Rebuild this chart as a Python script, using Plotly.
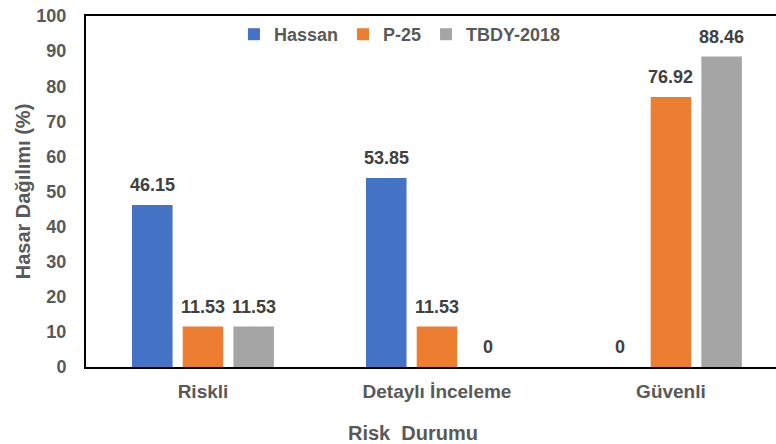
import plotly.graph_objects as go

# Damage distribution by risk category for three assessment methods
categories = ["Riskli", "Detaylı İnceleme", "Güvenli"]
hassan = [46.15, 53.85, 0]
p25 = [11.53, 11.53, 76.92]
tbdy = [11.53, 0, 88.46]

series = [
    ("Hassan", hassan, "#4472C4"),
    ("P-25", p25, "#ED7D31"),
    ("TBDY-2018", tbdy, "#A5A5A5"),
]

x_title = "Risk  Durumu"
y_title = "Hasar Dağılımı (%)"

FONT = "Liberation Sans, Arial, sans-serif"
GREY = "#595959"
LABEL = "#404040"

X_RANGE = [-0.5, 2.449]
ML, MR, WIDTH = 86, 0, 776
BARGAP = 0.35

fig = go.Figure()
for name, vals, color in series:
    fig.add_trace(go.Bar(
        name=name,
        x=categories,
        y=vals,
        marker=dict(color=color, line=dict(width=0)),
    ))

# value labels above each bar, shifted to the bar's slot within the group
cat_px = (WIDTH - ML - MR) / (X_RANGE[1] - X_RANGE[0])
slot_px = cat_px * (1 - BARGAP) / len(series)
annotations = []
for i, (name, vals, color) in enumerate(series):
    for cat, v in zip(categories, vals):
        annotations.append(dict(
            x=cat, y=v, xref="x", yref="y",
            text=f"{v:g}",
            showarrow=False,
            xanchor="center", yanchor="bottom",
            xshift=(i - (len(series) - 1) / 2) * slot_px,
            yshift=8,
            font=dict(family=FONT, size=18, color=LABEL, weight="bold"),
        ))

# horizontal axis title, placed under the category labels
annotations.append(dict(
    x=0.474, y=-0.187, xref="paper", yref="paper",
    text=x_title, showarrow=False,
    xanchor="center", yanchor="middle",
    font=dict(family=FONT, size=20, color=GREY, weight="bold"),
))

fig.update_layout(
    width=WIDTH,
    height=444,
    margin=dict(l=ML, r=MR, t=16, b=77),
    paper_bgcolor="white",
    plot_bgcolor="white",
    barmode="group",
    bargap=BARGAP,
    bargroupgap=0.2,
    font=dict(family=FONT, color=GREY),
    annotations=annotations,
    showlegend=True,
    legend=dict(
        orientation="h",
        x=0.455, xanchor="center",
        y=1.0, yanchor="top",
        font=dict(family=FONT, size=18, color=GREY, weight="bold"),
        itemwidth=30,
        tracegroupgap=0,
        bgcolor="rgba(0,0,0,0)",
    ),
    xaxis=dict(
        range=X_RANGE,
        showline=True,
        linecolor="black",
        linewidth=2,
        mirror=True,
        ticks="",
        ticklabelstandoff=6,
        tickfont=dict(family=FONT, size=19, color=GREY, weight="bold"),
    ),
    yaxis=dict(
        range=[0, 100],
        dtick=10,
        showgrid=False,
        zeroline=False,
        showline=True,
        linecolor="black",
        linewidth=2,
        ticks="",
        ticklabelstandoff=14,
        tickfont=dict(family=FONT, size=18, color=GREY, weight="bold"),
        title=dict(
            text=y_title,
            font=dict(family=FONT, size=20, color=GREY, weight="bold"),
            standoff=0,
        ),
    ),
)

fig.write_html("out.html")
